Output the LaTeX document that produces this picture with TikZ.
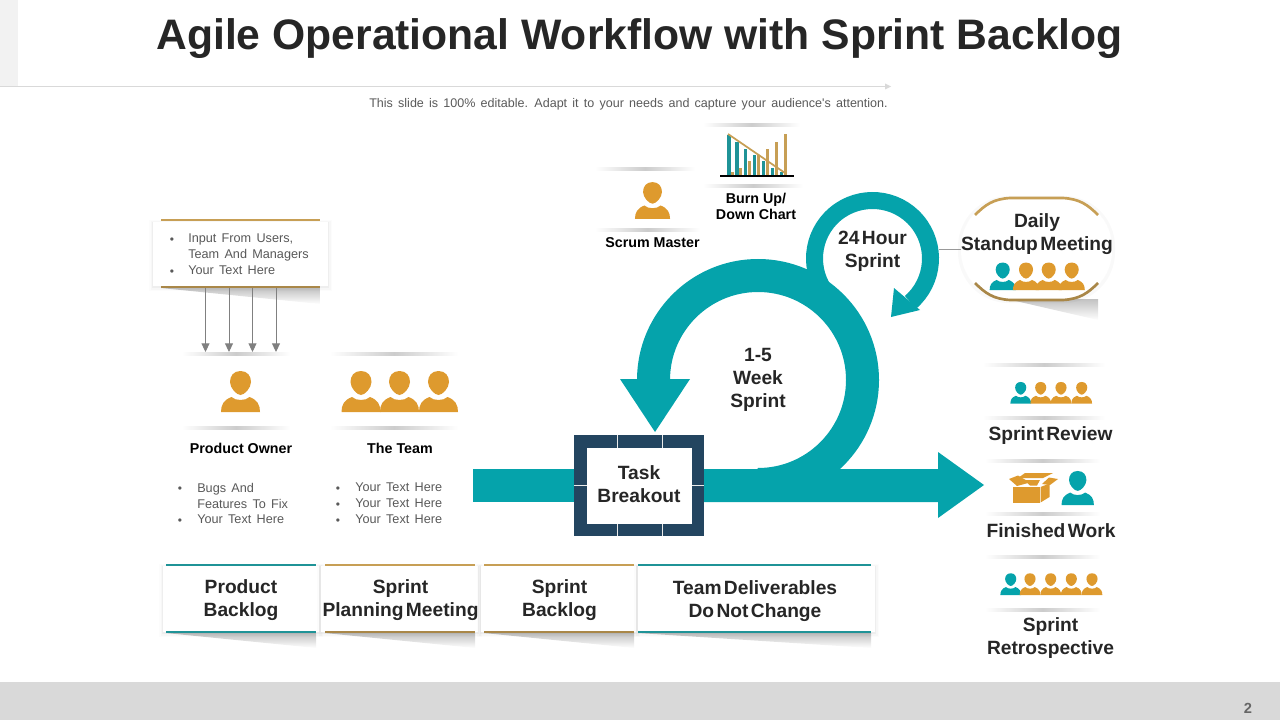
\documentclass[tikz,border=0pt]{standalone}
\usepackage{fontspec}
\setmainfont{Liberation Sans}
\newfontfamily\boldtight[WordSpace=0.45]{Liberation Sans Bold}
\newfontfamily\greywide[WordSpace=1.5]{Liberation Sans}
\usetikzlibrary{arrows.meta}
\definecolor{teal1}{HTML}{05A3AB}
\definecolor{gold1}{HTML}{DE9A2E}
\definecolor{tealline}{HTML}{1F9397}
\definecolor{goldline}{HTML}{C79F55}
\definecolor{navy1}{HTML}{234560}
\definecolor{ink}{HTML}{262626}
\definecolor{greytxt}{HTML}{595959}
\newcommand{\personicon}[4]{%
  \begin{scope}[shift={(#1,#2)},scale=#3]
    \fill[#4] (-19.5,0) .. controls (-19.5,-7) and (-17,-12) .. (-9,-15)
      .. controls (-5,-11) and (5,-11) .. (9,-15)
      .. controls (17,-12) and (19.5,-7) .. (19.5,0) -- cycle;
    \fill[#4] (0,-41) .. controls (7,-41) and (10.5,-36) .. (10.5,-30)
      .. controls (10.5,-24) and (4,-17) .. (0,-17)
      .. controls (-4,-17) and (-10.5,-24) .. (-10.5,-30)
      .. controls (-10.5,-36) and (-7,-41) .. (0,-41) -- cycle;
  \end{scope}}
\newcommand{\stripshade}[3]{\shade[left color=white,right color=white,middle color=black!20] (#1,#3-1.5) rectangle (#2,#3+1.5);}
\newcommand{\wedgeshade}[4]{\shade[top color=black!24,bottom color=white] (#1,#3) -- (#2,#3) -- (#2,#3+#4) -- cycle;}
\newcommand{\softbox}[4]{%
  \fill[black,opacity=.012] (#1-4,#2-2) rectangle (#3+4,#4+5);
  \fill[black,opacity=.02] (#1-2.5,#2-1) rectangle (#3+2.5,#4+3.5);
  \fill[black,opacity=.035] (#1-1,#2) rectangle (#3+1,#4+2);
  \fill[white] (#1,#2) rectangle (#3,#4);}
\tikzset{
  blab/.style={inner sep=0pt,align=center,text=ink,font=\boldtight\fontsize{14.4}{17.25}\selectfont},
  slab/.style={inner sep=0pt,align=center,text=black,font=\bfseries\fontsize{10.7}{12}\selectfont},
  listitem/.style={inner sep=0pt,anchor=north west,align=left,text=greytxt,font=\greywide\fontsize{9.5}{12}\selectfont},
  bul/.style={inner sep=0pt,text=greytxt,font=\fontsize{9}{12}\selectfont},
  inarrow/.style={draw=black!50,line width=.7pt,-{Triangle[length=6.5pt,width=6pt]}},
  gline/.style={line width=1.5pt,draw=goldline},
  tline/.style={line width=1.5pt,draw=tealline},
}
\begin{document}
\begin{tikzpicture}[x=0.75pt,y=-0.75pt]
\useasboundingbox (0,0) rectangle (1280,720);
% page furniture
\fill[black!5] (0,0) rectangle (18,86);
\draw[black!15,line width=.8pt] (0,86.5) -- (885,86.5);
\fill[black!15] (885,83.5) -- (891,86.5) -- (885,89.5) -- cycle;
\fill[black!15] (0,682) rectangle (1280,720);
\node[inner sep=0pt,text=black!60,font=\bfseries\fontsize{11}{13}\selectfont] (pagenum) at (1248,708) {2};
\node[inner sep=0pt,text=ink,font=\bfseries\fontsize{32}{40}\selectfont] (title) at (639.5,38.5) {Agile Operational Workflow with Sprint Backlog};
\node[inner sep=0pt,text=greytxt,font=\greywide\fontsize{9.4}{12}\selectfont] (subtitle) at (628.5,104) {This slide is 100\% editable. Adapt it to your needs and capture your audience's attention.};
% strips
\stripshade{703}{800}{125}
\stripshade{703}{803}{186}
\stripshade{595}{695}{169}
\stripshade{595}{700}{230}
\stripshade{182}{290}{354}
\stripshade{182}{290}{428}
\stripshade{330}{458}{354}
\stripshade{330}{458}{428}
\stripshade{983}{1105}{365}
\stripshade{983}{1105}{418}
\stripshade{985}{1100}{461}
\stripshade{985}{1100}{514}
\stripshade{985}{1100}{557}
\stripshade{985}{1100}{610}
% input box
\wedgeshade{161}{320}{288}{16}
\softbox{153}{222}{328}{286}
\draw[gline] (161,220) -- (320,220);
\draw[gline,draw=goldline!85!black] (161,287) -- (320,287);
\node[bul] (b1) at (172,240.5) {•};
\node[bul] (b2) at (172,272.5) {•};
\node[listitem] (i1) at (188,234) {Input From Users,\\Team And Managers};
\node[listitem] (i2) at (188,266) {Your Text Here};
\foreach \n/\x in {a/205.5,b/229,c/252.5,d/276}{
  \coordinate (s\n) at (\x,288);
  \coordinate (e\n) at (\x,352);
  \draw[inarrow] (s\n) -- (e\n);
}
% people icons
\personicon{240.5}{412}{1}{gold1}
\personicon{361}{412}{1}{gold1}
\personicon{399.5}{412}{1}{gold1}
\personicon{438.5}{412}{1}{gold1}
\personicon{652.5}{219}{.9}{gold1}
\node[slab] (po) at (241,448) {Product Owner};
\node[slab] (team) at (400,448) {The Team};
\node[slab] (scrum) at (652.5,243) {Scrum Master};
\node[slab] (burn) at (756,206.5) {Burn Up/\\Down Chart};
% lists below
\node[bul] (b3) at (180,489.5) {•};
\node[bul] (b4) at (180,521.5) {•};
\node[listitem] (i3) at (197,483) {Bugs And\\Features To Fix};
\node[listitem] (i4) at (197,515) {Your Text Here};
\node[bul] (b5) at (338,489.5) {•};
\node[bul] (b6) at (338,505.5) {•};
\node[bul] (b7) at (338,521.5) {•};
\node[listitem] (i5) at (355,483) {Your Text Here\\Your Text Here\\Your Text Here};
% chart
\foreach \x/\t in {729/135,737/142.3,745.7/149.3,754.3/155,763.3/160.7,772.3/168.3,781.3/172.3}{
  \fill[tealline] (\x-1.7,\t) rectangle (\x+1.7,176);
}
\foreach \x/\t in {732/172.3,740.3/168.3,749.3/160.7,758.3/155,767.3/149.3,776.3/142.3,785.3/134}{
  \fill[goldline] (\x-1.5,\t) rectangle (\x+1.5,176);
}
\draw[goldline,line width=1.3pt] (728,134) -- (785,173);
\draw[black,line width=1.5pt] (720,176) -- (794,176);
% small ring
\draw[teal1,line width=12.75pt] (872.5,258.5) ++(140:58) arc[start angle=140,end angle=409,radius=58];
\fill[teal1] (891,317) -- (894,288) -- (920,310) -- cycle;
% big ring
\draw[teal1,line width=24.75pt] (758,380) ++(180:104.5) arc[start angle=180,end angle=450,radius=104.5];
\fill[teal1] (620,379) -- (690,379) -- (655,432) -- cycle;
% bars
\fill[teal1] (473,469) rectangle (574,502);
\fill[teal1] (704,469) -- (938,469) -- (938,452) -- (984,485) -- (938,518) -- (938,502) -- (704,502) -- cycle;
% task box
\fill[navy1] (574,435) rectangle (704,536);
\fill[white] (587,448) rectangle (692,524);
\draw[black!8,line width=.6pt] (617,435) -- (617,448) (662,435) -- (662,448) (617,524) -- (617,536) (662,524) -- (662,536) (574,485) -- (587,485) (692,485) -- (704,485);
\node[blab] (task) at (639,484.5) {Task\\Breakout};
\node[blab] (week) at (758,379.5) {1-5\\Week\\Sprint};
\node[blab] (hour) at (872.5,251) {24 Hour\\Sprint};
% daily meeting
\wedgeshade{1007}{1098}{299}{21}
\fill[black,opacity=.025,rounded corners=38pt] (958,196) rectangle (1115,303);
\draw[black!40,line width=.6pt] (939,249) -- (962,249);
\fill[white,rounded corners=37pt] (961,198) rectangle (1112,300);
\draw[goldline,line width=2pt] (975,215) .. controls (985,205) and (993,199) .. (1010,198) -- (1063,198) .. controls (1080,199) and (1088,205) .. (1098,215);
\draw[goldline!85!black,line width=2pt] (975,283) .. controls (985,293) and (993,299) .. (1010,300) -- (1063,300) .. controls (1080,299) and (1088,293) .. (1098,283);
\node[blab] (daily) at (1037,234) {Daily\\Standup Meeting};
\personicon{1002.7}{290}{.67}{teal1}
\personicon{1026}{290}{.67}{gold1}
\personicon{1048.7}{290}{.67}{gold1}
\personicon{1071.7}{290}{.67}{gold1}
% sprint review
\personicon{1020.7}{403.7}{.53}{teal1}
\personicon{1040.7}{403.7}{.53}{gold1}
\personicon{1061}{403.7}{.53}{gold1}
\personicon{1081.7}{403.7}{.53}{gold1}
\node[blab] (review) at (1050.5,436) {Sprint Review};
% finished work
\fill[gold1] (1025,473) -- (1053,473) -- (1043,478) -- (1018,478) -- cycle;
\fill[gold1] (1009,479) -- (1018,475.5) -- (1030,482.5) -- (1017,486) -- cycle;
\fill[gold1] (1058,479) -- (1049,477.5) -- (1042,484) -- (1050,485) -- cycle;
\fill[gold1] (1024,480) -- (1040,480) -- (1037,485.5) -- (1030,485.5) -- cycle;
\fill[gold1] (1013,487) -- (1039.5,487) -- (1039.5,502.5) -- (1013,502.5) -- cycle;
\fill[gold1] (1040.5,487) -- (1049.5,483.5) -- (1049.5,497) -- (1040.5,502.5) -- cycle;
\personicon{1077.7}{505}{.83}{teal1}
\node[blab] (finished) at (1051,531) {Finished Work};
% retrospective
\personicon{1010.7}{595}{.53}{teal1}
\personicon{1030}{595}{.53}{gold1}
\personicon{1050.7}{595}{.53}{gold1}
\personicon{1071.3}{595}{.53}{gold1}
\personicon{1092}{595}{.53}{gold1}
\node[blab] (retro) at (1050.5,638) {Sprint\\Retrospective};
% bottom boxes
\wedgeshade{166}{316}{633}{15}
\wedgeshade{325}{475}{633}{15}
\wedgeshade{484}{634}{633}{15}
\wedgeshade{638}{871}{633}{15}
\softbox{163}{566}{319}{632}
\softbox{321}{566}{478}{632}
\softbox{481}{566}{636}{632}
\softbox{638}{566}{875}{632}
\draw[tline] (166,565) -- (316,565);
\draw[tline] (166,632) -- (316,632);
\draw[gline] (325,565) -- (475,565);
\draw[gline,draw=goldline!85!black] (325,632) -- (475,632);
\draw[gline] (484,565) -- (634,565);
\draw[gline,draw=goldline!85!black] (484,632) -- (634,632);
\draw[tline] (638,565) -- (871,565);
\draw[tline] (638,632) -- (871,632);
\node[blab] (pb) at (241,600) {Product\\Backlog};
\node[blab] (spm) at (400.5,600) {Sprint\\Planning Meeting};
\node[blab] (sb) at (559.5,600) {Sprint\\Backlog};
\node[blab] (tdl) at (755,601) {Team Deliverables\\Do Not Change};
\end{tikzpicture}
\end{document}
